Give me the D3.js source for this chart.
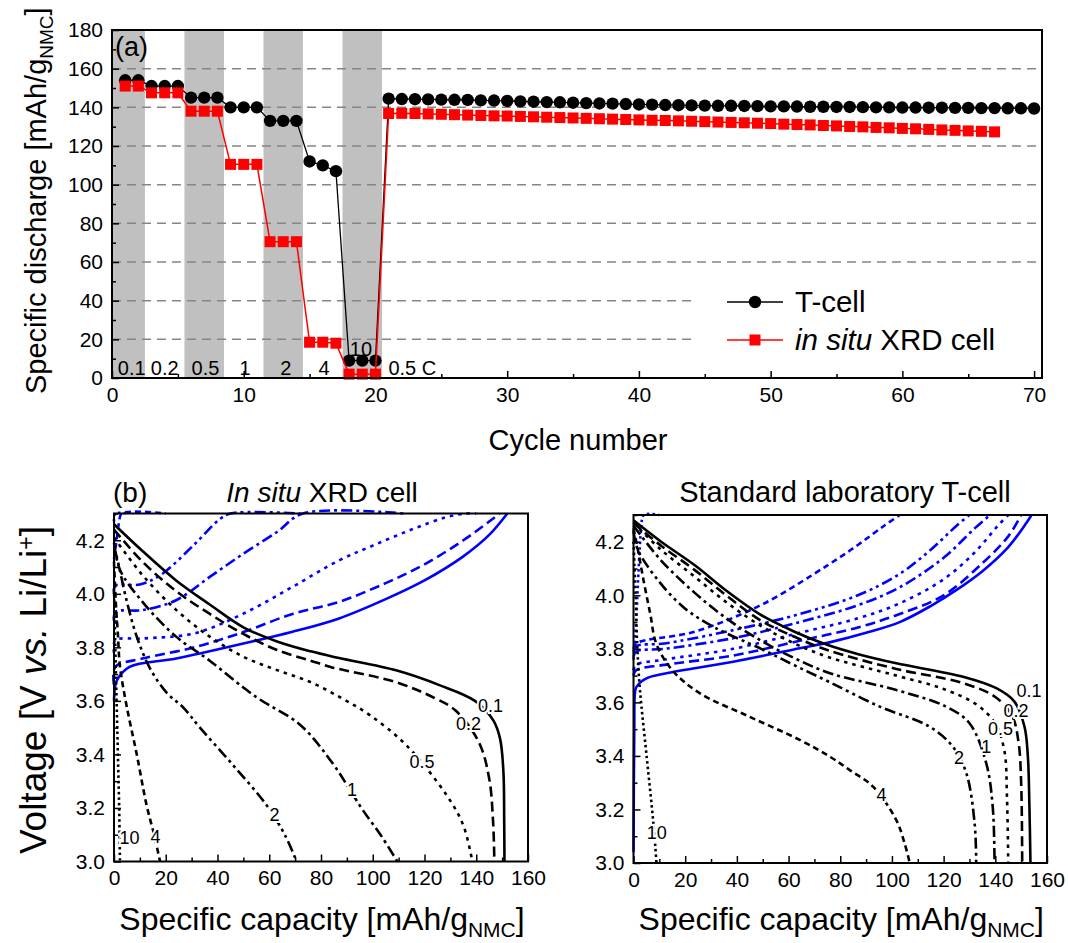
<!DOCTYPE html>
<html><head><meta charset="utf-8">
<script src="https://cdn.jsdelivr.net/npm/d3@7"></script>
<style>
body{margin:0;background:#fff;}
svg{font-family:"Liberation Sans",Arial,sans-serif;}
</style></head><body>
<svg id="chart" width="1068" height="943"></svg>
<script>
// ---------- (a) rate capability: discharge capacity per cycle ----------
const tcellCapacity = [154,154,151,151,151,145,145,145,140,140,140,133,133,133,112,110,107,9,9,9,
  144.5,144.3,144.2,144.1,144.0,143.9,143.8,143.6,143.5,143.3,143.1,142.9,142.7,142.6,142.4,142.2,142.0,141.9,141.7,141.5,
  141.4,141.2,141.1,141.0,140.9,140.8,140.8,140.7,140.6,140.5,140.5,140.4,140.3,140.3,140.2,140.2,140.1,140.0,140.0,139.9,
  139.9,139.8,139.8,139.7,139.7,139.6,139.6,139.5,139.5,139.4];
const xrdCapacity = [151,151,147.5,147.5,147.5,138,138,138,110.5,110.5,110.5,70.5,70.5,70.5,18.5,18.5,18,2,2,2,
  136.8,136.9,136.8,136.6,136.4,136.2,136.0,135.8,135.6,135.5,135.3,135.1,134.9,134.7,134.5,134.3,134.1,133.9,133.7,133.5,
  133.3,133.2,133.0,132.8,132.6,132.4,132.2,132.0,131.8,131.6,131.3,131.1,130.9,130.6,130.4,130.1,129.9,129.6,129.4,129.1,
  128.9,128.6,128.3,128.1,127.8,127.6,127.3];
// shaded cycle ranges and C-rate captions
const rateBands = [[0,2.5],[5.5,8.5],[11.5,14.5],[17.5,20.5]];
const rateText = ["0.1","0.2","0.5","1","2","4","10","0.5 C"];
const rateTextCycle = [1.5,4,7.1,10.1,13.2,16.1,18.9,22.8];
const rateTextLevel = [5,5,5,5,5,5,15,5];
const xTicksA = [0,10,20,30,40,50,60,70];
const yTicksA = [0,20,40,60,80,100,120,140,160,180];
const gridLong = [60,80,100,120,140,160];
const gridShort = [20,40];

// ---------- (b) voltage profiles [capacity mAh/g, voltage V] ----------
// in situ XRD cell, discharge
const xrdDis01 = [[0,4.26],[11,4.16],[24,4.05],[37,3.96],[50,3.875],[63,3.822],[76,3.785],[87,3.76],[109,3.714],[126,3.658],[139.5,3.60],[146.6,3.527],[149.2,3.459],[150.5,3.335],[150.8,3.15],[150.9,3.0]];
const xrdDis02 = [[0,4.24],[11,4.12],[24,4.01],[37,3.925],[50,3.85],[63,3.79],[76,3.75],[84,3.726],[109,3.67],[124,3.61],[132,3.564],[141,3.446],[145,3.31],[146.5,3.15],[147,3.0]];
const xrdDis05 = [[0,4.21],[11,4.07],[24,3.94],[37,3.84],[50,3.765],[63,3.715],[76,3.67],[88,3.61],[99,3.546],[113,3.434],[128.6,3.247],[135,3.135],[138.5,3.0]];
const xrdDis1 = [[0,4.19],[2.3,4.09],[11,3.97],[24,3.84],[37,3.75],[50,3.65],[56.4,3.605],[72,3.51],[85,3.36],[91,3.27],[96.3,3.19],[103,3.1],[109.5,3.0]];
const xrdDis2 = [[0,4.17],[1,4.14],[5,3.97],[8.8,3.84],[14,3.72],[20.4,3.63],[26.8,3.575],[33.2,3.50],[46,3.36],[59,3.21],[66,3.10],[70.6,3.0]];
const xrdDis4 = [[0,4.12],[0.8,3.95],[1.5,3.85],[2.3,3.73],[4.9,3.58],[8.8,3.40],[12.6,3.21],[15.5,3.1],[17.8,3.0]];
const xrdDis10 = [[0,4.02],[0.5,3.8],[1,3.6],[1.5,3.4],[2,3.2],[2.3,3.0]];
// in situ XRD cell, charge
const xrdChg01 = [[0,3.60],[0.3,3.645],[1,3.675],[6,3.727],[24,3.758],[50,3.814],[69,3.858],[87,3.908],[105,3.98],[120,4.05],[135,4.14],[145,4.22],[152,4.3]];
const xrdChg02 = [[0,3.66],[0.5,3.727],[11,3.758],[31,3.80],[50,3.857],[69,3.925],[87,3.97],[105,4.04],[120,4.11],[135,4.2],[145,4.27],[149,4.3]];
const xrdChg05 = [[0,3.78],[0.5,3.826],[11,3.833],[31,3.852],[50,3.926],[69,4.026],[87,4.125],[100,4.18],[115,4.24],[128,4.285],[136,4.3],[140,4.3]];
const xrdChg1 = [[0,3.90],[0.5,3.932],[11,3.939],[24,3.976],[37,4.063],[50,4.15],[63,4.231],[73,4.3],[112,4.3]];
const xrdChg2 = [[0,4.0],[0.5,4.03],[10,4.035],[18,4.07],[30.6,4.18],[41,4.28],[45,4.3],[72,4.3]];
const xrdChg4 = [[0,4.13],[1,4.2],[2,4.27],[3,4.3],[20,4.3]];
const xrdChg10 = [[0,4.27],[0.5,4.3],[5,4.3]];
// standard T-cell, discharge
const tDis01 = [[0,4.28],[10.7,4.20],[23.6,4.113],[36.5,4.013],[49.4,3.926],[62.3,3.864],[75.2,3.814],[87,3.78],[101.7,3.746],[127.5,3.696],[140.4,3.653],[147.4,3.603],[151.3,3.509],[152.6,3.397],[153.2,3.21],[153.6,3.0]];
const tDis02 = [[0,4.27],[10.7,4.185],[23.6,4.095],[36.5,3.995],[49.4,3.905],[62.3,3.845],[75.2,3.795],[101.7,3.725],[127.5,3.672],[140,3.62],[146.5,3.55],[149,3.45],[150,3.3],[150.4,3.0]];
const tDis05 = [[0,4.27],[10.7,4.17],[23.6,4.07],[36.5,3.97],[49.4,3.885],[62.3,3.82],[75.2,3.77],[101.7,3.70],[120,3.65],[133,3.59],[140,3.52],[143.5,3.42],[144.5,3.25],[145,3.0]];
const tDis1 = [[0,4.26],[10.7,4.13],[23.6,4.01],[36.5,3.91],[49.4,3.83],[62.3,3.765],[76,3.709],[101.7,3.646],[121,3.584],[130,3.522],[136.5,3.372],[139,3.21],[139.7,3.0]];
const tDis2 = [[0,4.24],[1.7,4.17],[10,4.05],[20,3.95],[31.4,3.88],[49.4,3.80],[62,3.74],[76,3.675],[95.3,3.584],[114.6,3.509],[123.6,3.434],[128.8,3.335],[132,3.148],[132.6,3.0]];
const tDis4 = [[0,4.25],[1.7,4.17],[4,4.05],[6.5,3.93],[8.8,3.82],[15,3.72],[25.7,3.634],[45,3.546],[64.3,3.46],[76,3.397],[83.7,3.347],[92.7,3.285],[101.7,3.16],[105,3.07],[106.9,3.0]];
const tDis10 = [[0,4.2],[0.8,4.0],[1.5,3.8],[2.5,3.646],[5.1,3.397],[7.7,3.148],[8.9,3.0]];
// standard T-cell, charge
const tChg01 = [[0,3.04],[0.3,3.5],[0.6,3.64],[1.2,3.659],[5,3.69],[12.8,3.709],[38.6,3.752],[64.3,3.802],[77,3.827],[90,3.86],[103,3.90],[115,3.96],[125,4.02],[135,4.09],[145,4.18],[152,4.27],[154,4.3]];
const tChg02 = [[0,3.70],[1,3.72],[12,3.74],[38.6,3.775],[64.3,3.83],[86.8,3.88],[103,3.93],[120,4.0],[135,4.12],[145,4.22],[150,4.3]];
const tChg05 = [[0,3.72],[1,3.74],[12,3.76],[38.6,3.80],[64.3,3.86],[86.8,3.914],[103,3.97],[120,4.06],[132,4.16],[141,4.26],[145,4.3]];
const tChg1 = [[0,3.77],[1,3.79],[12,3.80],[38.6,3.84],[64.3,3.90],[86.8,3.963],[103,4.03],[120,4.14],[132,4.25],[138,4.3]];
const tChg2 = [[0,3.79],[1,3.81],[12,3.82],[38.6,3.87],[64.3,3.93],[86.8,4.0],[103,4.08],[115,4.17],[125,4.26],[130,4.3]];
const tChg4 = [[0,3.80],[1,3.82],[23.6,3.864],[49.4,3.964],[75.2,4.113],[86.8,4.188],[97,4.26],[103,4.3]];
const tChg10 = [[0,3.76],[1,3.9],[2,4.1],[3,4.25],[4,4.3],[10,4.3]];

const rates = ["0.1","0.2","0.5","1","2","4","10"];
const xrdLabelPos = [[145.5,3.56],[137,3.493],[119,3.35],[92,3.245],[62,3.153],[16,3.07],[6,3.065]];
const tLabelPos = [[153,3.62],[148,3.545],[142,3.48],[136.5,3.41],[126,3.37],[96,3.23],[9,3.09]];
const xTicksB = [0,20,40,60,80,100,120,140,160];
const yTicksB = [3.0,3.2,3.4,3.6,3.8,4.0,4.2];

// line dash styles per rate
const dashes = [null,"10,5","3.5,5","11,4,3,4","11,4,3,4,3,4","6,4","2.5,3"];

const svg = d3.select("#chart");

// ================= panel (a) =================
const xA = d3.scaleLinear().domain([0,70.6]).range([112,1042]);
const yA = d3.scaleLinear().domain([0,180]).range([378,30]);
const gA = svg.append("g");

gA.selectAll("rect.band").data(rateBands).join("rect")
  .attr("x", d => xA(d[0])).attr("width", d => xA(d[1]) - xA(d[0]))
  .attr("y", yA(180)).attr("height", yA(0) - yA(180)).attr("fill", "#c0c0c0");

gA.selectAll("line.gl").data(gridLong).join("line")
  .attr("x1", xA(0)).attr("x2", xA(70.6)).attr("y1", d => yA(d)).attr("y2", d => yA(d))
  .attr("stroke", "#858585").attr("stroke-width", 1.5).attr("stroke-dasharray", "9,6");
gA.selectAll("line.gs").data(gridShort).join("line")
  .attr("x1", xA(0)).attr("x2", xA(44)).attr("y1", d => yA(d)).attr("y2", d => yA(d))
  .attr("stroke", "#858585").attr("stroke-width", 1.5).attr("stroke-dasharray", "9,6");

// axes with inward ticks
gA.append("g").attr("transform", `translate(0,${yA(0)})`)
  .call(d3.axisBottom(xA).tickValues(xTicksA).tickSizeInner(-7).tickSizeOuter(0).tickPadding(9));
gA.append("g").attr("transform", `translate(0,${yA(0)})`)
  .call(d3.axisBottom(xA).tickValues(xTicksA.map(d => d + 5).filter(d => d < 70.6)).tickSizeInner(-4).tickSizeOuter(0).tickFormat(""));
gA.append("g").attr("transform", `translate(${xA(0)},0)`)
  .call(d3.axisLeft(yA).tickValues(yTicksA).tickSizeInner(-7).tickSizeOuter(0).tickPadding(9));
gA.append("g").attr("transform", `translate(${xA(0)},0)`)
  .call(d3.axisLeft(yA).tickValues(yTicksA.slice(0,-1).map(d => d + 10)).tickSizeInner(-4).tickSizeOuter(0).tickFormat(""));
gA.selectAll(".domain").remove();
gA.selectAll(".tick line").attr("stroke", "#000").attr("stroke-width", 1.5);
gA.selectAll(".tick text").attr("font-size", 21).attr("fill", "#000").attr("font-family", "Liberation Sans, Arial, sans-serif");

// rate captions
gA.selectAll("text.rate").data(rateText).join("text")
  .attr("x", (d, i) => xA(rateTextCycle[i])).attr("y", (d, i) => yA(rateTextLevel[i]) + 7)
  .attr("text-anchor", "middle").attr("font-size", 20).text(d => d);

// series
const lineA = d3.line().x((d, i) => xA(i + 1)).y(d => yA(d));
gA.append("path").attr("d", lineA(tcellCapacity)).attr("fill", "none").attr("stroke", "#000").attr("stroke-width", 1.3);
gA.selectAll("circle.t").data(tcellCapacity).join("circle")
  .attr("cx", (d, i) => xA(i + 1)).attr("cy", d => yA(d)).attr("r", 6.2).attr("fill", "#000");
gA.append("path").attr("d", lineA(xrdCapacity)).attr("fill", "none").attr("stroke", "#ff0000").attr("stroke-width", 1.5);
gA.selectAll("rect.x").data(xrdCapacity).join("rect")
  .attr("x", (d, i) => xA(i + 1) - 5.5).attr("y", d => yA(d) - 5.5).attr("width", 11).attr("height", 11).attr("fill", "#ff0000");

gA.append("rect").attr("x", xA(0)).attr("y", yA(180)).attr("width", xA(70.6) - xA(0)).attr("height", yA(0) - yA(180))
  .attr("fill", "none").attr("stroke", "#000").attr("stroke-width", 2);

// legend
const lg = gA.append("g");
lg.append("line").attr("x1", 727).attr("x2", 783).attr("y1", 302).attr("y2", 302).attr("stroke", "#000").attr("stroke-width", 1.5);
lg.append("circle").attr("cx", 755).attr("cy", 302).attr("r", 6.2).attr("fill", "#000");
lg.append("text").attr("x", 795).attr("y", 312).attr("font-size", 29.5).text("T-cell");
lg.append("line").attr("x1", 727).attr("x2", 783).attr("y1", 340).attr("y2", 340).attr("stroke", "#ff0000").attr("stroke-width", 1.5);
lg.append("rect").attr("x", 749.5).attr("y", 334.5).attr("width", 11).attr("height", 11).attr("fill", "#ff0000");
const lt = lg.append("text").attr("x", 795).attr("y", 350).attr("font-size", 29.5);
lt.append("tspan").attr("font-style", "italic").text("in situ");
lt.append("tspan").text(" XRD cell");

gA.append("text").attr("x", 115).attr("y", 56).attr("font-size", 27).text("(a)");
gA.append("text").attr("x", 578).attr("y", 450).attr("text-anchor", "middle").attr("font-size", 29).text("Cycle number");
const yla = gA.append("text").attr("transform", "translate(46,394) rotate(-90)").attr("font-size", 29);
yla.append("tspan").text("Specific discharge [mAh/g");
yla.append("tspan").attr("font-size", 19).attr("dy", 7).text("NMC");
yla.append("tspan").attr("dy", -7).text("]");

// ================= panel (b) =================
function drawProfiles(left, right, topY, bottomY, dis, chg, labelPos) {
  const x = d3.scaleLinear().domain([0,160]).range([left, right]);
  const y = d3.scaleLinear().domain([3.0,4.3]).range([bottomY, topY]);
  const g = svg.append("g");
  const line = d3.line().x(d => x(d[0])).y(d => y(d[1])).curve(d3.curveCatmullRom.alpha(0.5));
  chg.forEach((c, i) => {
    g.append("path").attr("d", line(c)).attr("fill", "none").attr("stroke", "#0000ff")
      .attr("stroke-width", 2.6).attr("stroke-dasharray", dashes[i]);
  });
  dis.forEach((c, i) => {
    g.append("path").attr("d", line(c)).attr("fill", "none").attr("stroke", "#000")
      .attr("stroke-width", 2.6).attr("stroke-dasharray", dashes[i]);
  });
  // rate labels on a white halo so the curves break around them
  g.selectAll("text.lab").data(rates).join("text")
    .attr("x", (d, i) => x(labelPos[i][0])).attr("y", (d, i) => y(labelPos[i][1]))
    .attr("text-anchor", "middle").attr("font-size", 18)
    .attr("stroke", "#fff").attr("stroke-width", 4).attr("paint-order", "stroke")
    .attr("fill", "#000").text(d => d);

  g.append("g").attr("transform", `translate(0,${bottomY})`)
    .call(d3.axisBottom(x).tickValues(xTicksB).tickSizeInner(-7).tickSizeOuter(0).tickPadding(9));
  g.append("g").attr("transform", `translate(0,${bottomY})`)
    .call(d3.axisBottom(x).tickValues(xTicksB.slice(0,-1).map(d => d + 10)).tickSizeInner(-4).tickSizeOuter(0).tickFormat(""));
  g.append("g").attr("transform", `translate(${left},0)`)
    .call(d3.axisLeft(y).tickValues(yTicksB).tickFormat(d3.format(".1f")).tickSizeInner(-7).tickSizeOuter(0).tickPadding(9));
  g.append("g").attr("transform", `translate(${left},0)`)
    .call(d3.axisLeft(y).tickValues(yTicksB.map(d => d + 0.1)).tickSizeInner(-4).tickSizeOuter(0).tickFormat(""));
  g.selectAll(".domain").remove();
  g.selectAll(".tick line").attr("stroke", "#000").attr("stroke-width", 1.5);
  g.selectAll(".tick text").attr("font-size", 21).attr("fill", "#000").attr("font-family", "Liberation Sans, Arial, sans-serif");
  g.append("rect").attr("x", left).attr("y", topY).attr("width", right - left).attr("height", bottomY - topY)
    .attr("fill", "none").attr("stroke", "#000").attr("stroke-width", 2);

  const xl = g.append("text").attr("x", (left + right) / 2 + 1).attr("y", 930).attr("text-anchor", "middle").attr("font-size", 32);
  xl.append("tspan").text("Specific capacity [mAh/g");
  xl.append("tspan").attr("font-size", 21).attr("dy", 7).text("NMC");
  xl.append("tspan").attr("dy", -7).text("]");
}

drawProfiles(114, 528, 513.5, 861.5,
  [xrdDis01, xrdDis02, xrdDis05, xrdDis1, xrdDis2, xrdDis4, xrdDis10],
  [xrdChg01, xrdChg02, xrdChg05, xrdChg1, xrdChg2, xrdChg4, xrdChg10], xrdLabelPos);
drawProfiles(633.5, 1047, 515, 863,
  [tDis01, tDis02, tDis05, tDis1, tDis2, tDis4, tDis10],
  [tChg01, tChg02, tChg05, tChg1, tChg2, tChg4, tChg10], tLabelPos);

svg.append("text").attr("x", 113).attr("y", 502).attr("font-size", 28).text("(b)");
const t1 = svg.append("text").attr("x", 322).attr("y", 502).attr("text-anchor", "middle").attr("font-size", 28);
t1.append("tspan").attr("font-style", "italic").text("In situ");
t1.append("tspan").text(" XRD cell");
svg.append("text").attr("x", 845).attr("y", 502).attr("text-anchor", "middle").attr("font-size", 29).text("Standard laboratory T-cell");

const yv = svg.append("text").attr("transform", "translate(46,690) rotate(-90)").attr("text-anchor", "middle").attr("font-size", 37);
yv.append("tspan").text("Voltage [V ");
yv.append("tspan").attr("font-style", "italic").text("vs.");
yv.append("tspan").text(" Li/Li");
yv.append("tspan").attr("font-size", 23).attr("dy", -12).text("+");
yv.append("tspan").attr("dy", 12).text("]");
</script></body></html>
